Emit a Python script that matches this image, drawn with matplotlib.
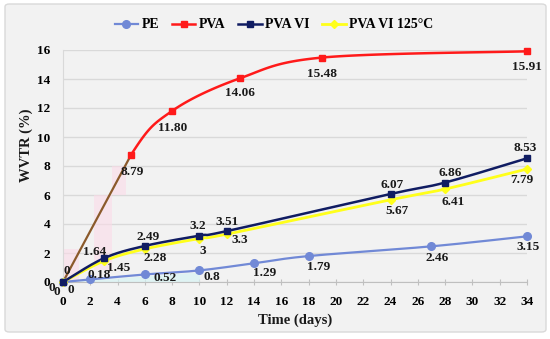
import numpy as np
import matplotlib
matplotlib.use("Agg")
import matplotlib.pyplot as plt
from matplotlib.patches import FancyBboxPatch
from matplotlib.lines import Line2D

# ---- data ----
pe_x = [0, 2, 6, 10, 14, 18, 27, 34]
pe_y = [0, 0.18, 0.52, 0.8, 1.29, 1.79, 2.46, 3.15]
pe_lbl = ["0", "0.18", "0.52", "0.8", "1.29", "1.79", "2.46", "3.15"]

pva_x = [0, 5, 8, 13, 19, 34]
pva_y = [0, 8.79, 11.80, 14.06, 15.48, 15.91]
pva_lbl = ["0", "8.79", "11.80", "14.06", "15.48", "15.91"]

vi_x = [0, 3, 6, 10, 12, 24, 28, 34]
vi_y = [0, 1.64, 2.49, 3.2, 3.51, 6.07, 6.86, 8.53]
vi_lbl = ["0", "1.64", "2.49", "3.2", "3.51", "6.07", "6.86", "8.53"]

vi125_x = [0, 3, 6, 10, 12, 24, 28, 34]
vi125_y = [0, 1.45, 2.28, 3, 3.3, 5.67, 6.41, 7.79]
vi125_lbl = ["0", "1.45", "2.28", "3", "3.3", "5.67", "6.41", "7.79"]

series_names = ["PE", "PVA", "PVA VI", "PVA VI 125°C"]
x_ticks = list(range(0, 35, 2))
y_ticks = list(range(0, 17, 2))

# ---- label offsets (pixels) ----
pe_off = [(8, -8), (9, 4), (20, -4), (12, -7), (11, -10), (10, -11), (6, -12), (1, -11)]
pva_off = [(-11, -6), (1, -17), (0, -17), (0, -15), (0, -16), (0, -16)]
vi_off = [(4, 11), (-9, 6), (3, 9), (-2, 10), (0, 9), (2, 9), (5, 10), (-2, 10)]
vi125_off = [(-6, -10), (15, -7), (10, -9), (3, -12), (13, -6), (6, -11), (8, -13), (-5, -11)]

SERIF = ["Liberation Serif", "DejaVu Serif"]
plt.rcParams['font.family'] = SERIF
plt.rcParams['font.weight'] = 'bold'


def smooth(xs, ys, n=30):
    """Catmull-Rom style smoothing like Excel's smoothed line."""
    P = np.column_stack([xs, ys]).astype(float)
    m = len(P)
    out = [P[0]]
    for i in range(m - 1):
        p0 = P[i - 1] if i > 0 else P[i]
        p1 = P[i]
        p2 = P[i + 1]
        p3 = P[i + 2] if i + 2 < m else P[i + 1]
        c1 = p1 + (p2 - p0) / 6.0
        c2 = p2 - (p3 - p1) / 6.0
        t = np.linspace(0, 1, n)[1:, None]
        seg = ((1 - t) ** 3) * p1 + 3 * ((1 - t) ** 2) * t * c1 + 3 * (1 - t) * t ** 2 * c2 + t ** 3 * p2
        out.extend(seg)
    out = np.array(out)
    return out[:, 0], out[:, 1]


W, H = 550, 339
fig = plt.figure(figsize=(W / 100, H / 100), dpi=100)
fig.patch.set_facecolor("white")
bg = FancyBboxPatch((5 / W, 7 / H), 541 / W, 328 / H,
                    boxstyle="round,pad=0,rounding_size=0.008",
                    transform=fig.transFigure, facecolor="#f2f2f2",
                    edgecolor="#d9d9d9", linewidth=1.0, zorder=-10)
fig.patches.append(bg)

ax = fig.add_axes([63 / W, 1 - 282 / H, 464 / W, 232 / H])
ax.set_zorder(1)
ax.set_facecolor("#f2f2f2")
ax.set_xlim(0, 34)
ax.set_ylim(0, 16)
ax.set_xticks(x_ticks)
ax.set_yticks(y_ticks)
ax.grid(axis="y", color="#d9d9d9", linewidth=1.0)
ax.set_axisbelow(True)
for s in ["top", "right"]:
    ax.spines[s].set_visible(False)
ax.spines["left"].set_color("#d9d9d9")
ax.spines["bottom"].set_color("#bfbfbf")
ax.tick_params(axis="y", length=0, pad=9, labelsize=9.5)
ax.tick_params(axis="x", length=4, direction="inout", color="#bfbfbf", pad=8, labelsize=9.5)
for lab in ax.get_xticklabels() + ax.get_yticklabels():
    lab.set_fontweight("bold")

c_pe = "#7189d6"
c_pva = "#ff1a1a"
c_vi = "#101c62"
c_125 = "#ffff1a"

# faint shading artefacts near the start
pink = "#fcdce8"
ax.fill_between([0, 1.2], 0, 2.3, color=pink, alpha=0.6, lw=0, zorder=1)
ax.fill_between([2.3, 3.6], 0.8, 6.0, color=pink, alpha=0.6, lw=0, zorder=1)
ax.fill_between([3.6, 4.6], 6.0, 8.0, color=pink, alpha=0.6, lw=0, zorder=1)
ax.fill_between([0, 10], 0, [0, 0.7], color="#d8f4f4", alpha=0.7, lw=0, zorder=1)

# PE
sx, sy = smooth(pe_x, pe_y)
ax.plot(sx, sy, color=c_pe, lw=1.6, zorder=3, clip_on=False)
ax.plot(pe_x, pe_y, "o", color=c_pe, ms=5.5, zorder=4, clip_on=False)

# PVA VI 125
sx, sy = smooth(vi125_x, vi125_y)
ax.plot(sx, sy, color=c_125, lw=2.0, zorder=3, clip_on=False)
ax.plot(vi125_x, vi125_y, "D", color=c_125, ms=4.5, zorder=4, clip_on=False)

# PVA VI
sx, sy = smooth(vi_x, vi_y)
ax.plot(sx, sy, color=c_vi, lw=1.8, zorder=3, clip_on=False)
ax.plot(vi_x, vi_y, "s", color=c_vi, ms=4.8, zorder=4, clip_on=False)

# PVA: first segment straight brown, rest smoothed red
sx, sy = smooth(pva_x, pva_y)
mask = sx >= pva_x[1]
ax.plot(sx[mask], sy[mask], color=c_pva, lw=1.8, zorder=3, clip_on=False)
ax.plot(pva_x[:2], pva_y[:2], color="#8b5a2b", lw=1.6, zorder=3)
ax.plot(pva_x[1:], pva_y[1:], "s", color=c_pva, ms=4.5, zorder=4, clip_on=False)

lbl_kw = dict(textcoords="offset pixels", ha="center", va="center",
              fontsize=9.5, fontweight="bold", color="#1a1a1a", zorder=6,
              annotation_clip=False)
for xs, ys, ls, offs in [(pe_x, pe_y, pe_lbl, pe_off), (pva_x, pva_y, pva_lbl, pva_off),
                         (vi_x, vi_y, vi_lbl, vi_off), (vi125_x, vi125_y, vi125_lbl, vi125_off)]:
    for x, y, l, o in zip(xs, ys, ls, offs):
        ax.annotate(l, (x, y), xytext=o, **lbl_kw)

fig.text(295 / W, 1 - 320 / H, "Time (days)", ha="center", va="center",
         fontsize=10.5, fontweight="bold", color="#1a1a1a")
fig.text(26 / W, 1 - 145 / H, "WVTR (%)", ha="center", va="center", rotation=90,
         fontsize=10.5, fontweight="bold", color="#1a1a1a")

handles = [
    Line2D([], [], color=c_pe, lw=1.6, marker="o", ms=5.5),
    Line2D([], [], color=c_pva, lw=1.8, marker="s", ms=4.5),
    Line2D([], [], color=c_vi, lw=1.8, marker="s", ms=4.8),
    Line2D([], [], color=c_125, lw=2.0, marker="D", ms=4.5),
]
leg = fig.legend(handles, series_names, loc="center", bbox_to_anchor=(274 / W, 1 - 25 / H),
                 ncol=4, frameon=False, handlelength=1.7, handletextpad=0.25,
                 columnspacing=0.9, prop={"family": SERIF, "weight": "bold", "size": 10})

fig.savefig("out.png", dpi=100, facecolor="white")
